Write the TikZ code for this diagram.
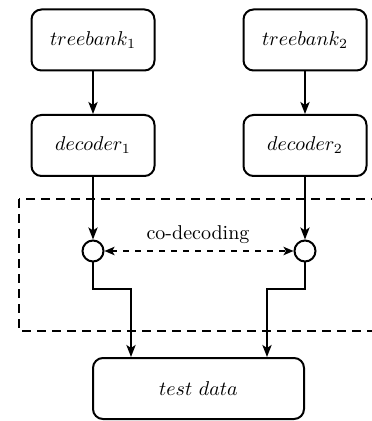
\documentclass[tikz,border=0pt]{standalone}
\usetikzlibrary{arrows.meta}
\begin{document}
\begin{tikzpicture}[x=0.5pt,y=-0.5pt,
  every path/.style={line width=1pt},
  box/.style={draw, rounded corners=5pt, minimum width=61.5pt, minimum height=30.5pt, inner sep=0pt},
  wide/.style={box, minimum width=105.5pt},
  joint/.style={draw, circle, minimum size=10.5pt, inner sep=0pt},
  flow/.style={-{Stealth[length=6pt,width=4.6pt,inset=1.5pt]}},
  coflow/.style={{Stealth[length=5pt,width=4.2pt,inset=1.2pt]}-{Stealth[length=5pt,width=4.2pt,inset=1.2pt]}, dashed},
  region/.style={dash pattern=on 4.5pt off 3pt}
]
\useasboundingbox (0,0) rectangle (371,421);

% input treebanks and their decoders
\node[box] (tb1) at (93,40) {$treebank_1$};
\node[box] (tb2) at (305,40) {$treebank_2$};
\node[box] (dec1) at (93,145.5) {$decoder_1$};
\node[box] (dec2) at (305,145.5) {$decoder_2$};

% co-decoding region
\draw[region] (19,199) rectangle (420,331);
\node[joint] (j1) at (93,251) {};
\node[joint] (j2) at (305,251) {};
\node (lbl) at (198,235) {co-decoding};

% output
\node[wide] (test) at (198.5,388.5) {$test\ data$};

\coordinate (k1) at (93,289);
\coordinate (m1) at (131,289);
\coordinate (k2) at (305,289);
\coordinate (m2) at (267,289);

\draw[flow] (tb1) -- (dec1);
\draw[flow] (tb2) -- (dec2);
\draw[flow] (dec1) -- (j1);
\draw[flow] (dec2) -- (j2);
\draw[coflow] (j1) -- (j2);
\draw[flow] (j1) -- (k1) -- (m1) -- (m1 |- test.north);
\draw[flow] (j2) -- (k2) -- (m2) -- (m2 |- test.north);
\end{tikzpicture}
\end{document}
